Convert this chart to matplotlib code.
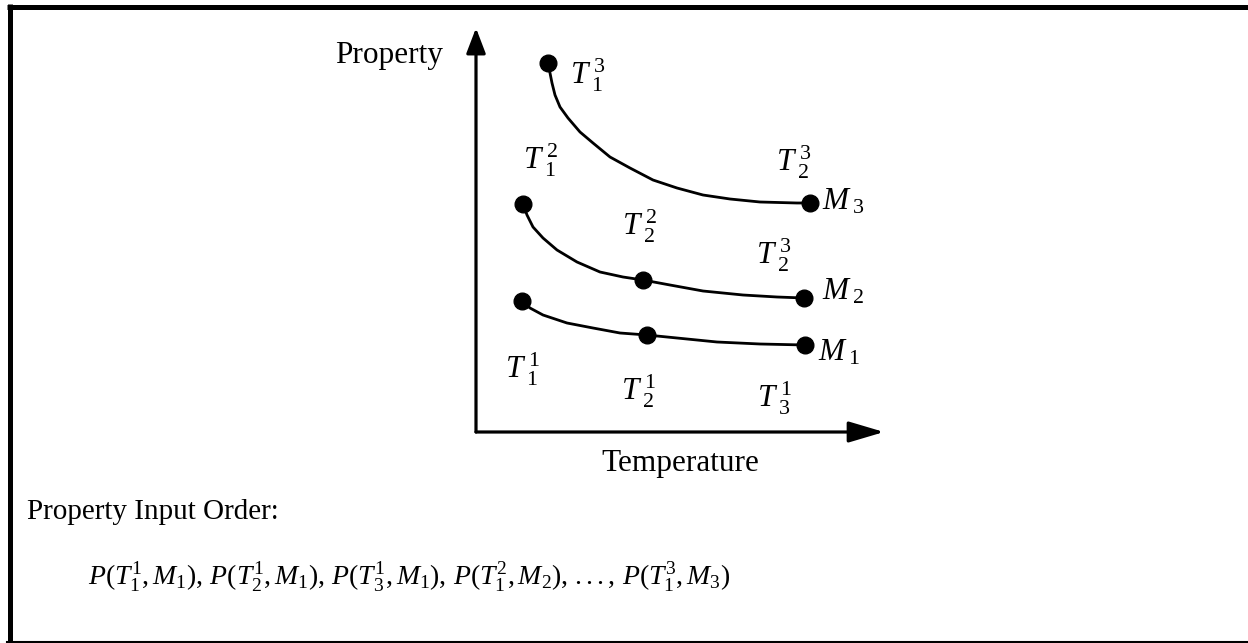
import matplotlib
matplotlib.use("Agg")
import matplotlib.pyplot as plt
from matplotlib.lines import Line2D

plt.rcParams['font.family'] = ['Liberation Serif', 'DejaVu Serif']
plt.rcParams['mathtext.fontset'] = 'custom'
plt.rcParams['mathtext.rm'] = 'Liberation Serif'
plt.rcParams['mathtext.it'] = 'Liberation Serif:italic'

# curves (temperature, property), origin at the axis corner
m3_temp = [72, 74, 76, 79, 84, 92, 104, 117, 134, 154, 177, 201, 227, 254, 284, 321, 334]
m3_prop = [369, 359, 349, 337, 325, 314, 300, 289, 275, 264, 252, 244, 237, 233, 230, 229, 229]
m2_temp = [47, 51, 57, 67, 81, 101, 124, 147, 167, 194, 227, 267, 301, 328]
m2_prop = [228, 217, 205, 194, 182, 170, 160, 155, 152, 147, 141, 137, 135, 134]
m1_temp = [46, 54, 67, 91, 117, 144, 171, 201, 241, 284, 329]
m1_prop = [131, 124, 117, 109, 104, 99, 97, 94, 90, 88, 87]

# measured points on each curve
m3_pts_t = [72, 334]
m3_pts_p = [369, 229]
m2_pts_t = [47, 167, 328]
m2_pts_p = [228, 152, 134]
m1_pts_t = [46, 171, 329]
m1_pts_p = [131, 97, 87]

# labels: text, temperature, property (left/centre anchor)
labels = [
    (r'$T_{\;1}^{\;3}$', 94, 357),
    (r'$T_{\;1}^{\;2}$', 47, 272),
    (r'$T_{\;2}^{\;3}$', 300, 270),
    (r'$M_{\;3}$', 346, 230),
    (r'$T_{\;2}^{\;2}$', 146, 206),
    (r'$T_{\;2}^{\;3}$', 280, 177),
    (r'$M_{\;2}$', 346, 140),
    (r'$M_{\;1}$', 342, 79),
    (r'$T_{\;1}^{\;1}$', 29, 63),
    (r'$T_{\;2}^{\;1}$', 145, 41),
    (r'$T_{\;3}^{\;1}$', 281, 34),
]

W, H = 1248, 643
fig = plt.figure(figsize=(W / 100, H / 100), dpi=100)

# background axes in pixel space for the frame and free text
bg = fig.add_axes([0, 0, 1, 1])
bg.set_xlim(0, W)
bg.set_ylim(H, 0)
bg.axis('off')
bg.add_line(Line2D([9.5, 9.5], [4, H], color='black', lw=3.6, solid_capstyle='butt'))
bg.add_line(Line2D([7, W], [6.5, 6.5], color='black', lw=3.6, solid_capstyle='butt'))
bg.add_line(Line2D([7, W], [642, 642], color='black', lw=1.5))

fs = 22.5
bg.text(443, 56, 'Property', ha='right', va='center', fontsize=fs)
bg.text(680, 463, 'Temperature', ha='center', va='center', fontsize=fs)
bg.text(27, 512, 'Property Input Order:', ha='left', va='center', fontsize=21)
bg.text(88, 577,
        r'$P(T_1^1, M_1),\, P(T_2^1, M_1),\, P(T_3^1, M_1),\, '
        r'P(T_1^2, M_2),\, ...,\, P(T_1^3, M_3)$',
        ha='left', va='center', fontsize=20)

# diagram axes, origin at the corner of the arrows
x0, y0 = 476, 432
xmax, ymax = 884 - x0, y0 - 28
ax = fig.add_axes([x0 / W, (H - y0) / H, xmax / W, ymax / H])
ax.set_xlim(0, xmax)
ax.set_ylim(0, ymax)
ax.axis('off')

ax.annotate('', xy=(0, ymax), xytext=(0, 0),
            arrowprops=dict(arrowstyle='-|>,head_length=1.1,head_width=0.42',
                            mutation_scale=14, lw=2.3, color='black',
                            shrinkA=0, shrinkB=0), annotation_clip=False)
ax.annotate('', xy=(xmax, 0), xytext=(0, 0),
            arrowprops=dict(arrowstyle='-|>,head_length=1.55,head_width=0.46',
                            mutation_scale=14, lw=2.3, color='black',
                            shrinkA=0, shrinkB=0), annotation_clip=False)

for t, p in [(m3_temp, m3_prop), (m2_temp, m2_prop), (m1_temp, m1_prop)]:
    ax.plot(t, p, color='black', lw=2.0, solid_joinstyle='round', solid_capstyle='round')
for t, p in [(m3_pts_t, m3_pts_p), (m2_pts_t, m2_pts_p), (m1_pts_t, m1_pts_p)]:
    ax.plot(t, p, 'o', color='black', markersize=12, zorder=3)

for s, t, p in labels:
    ax.text(t, p, s, ha='left', va='center', fontsize=fs)

fig.savefig('out.png', dpi=100)
